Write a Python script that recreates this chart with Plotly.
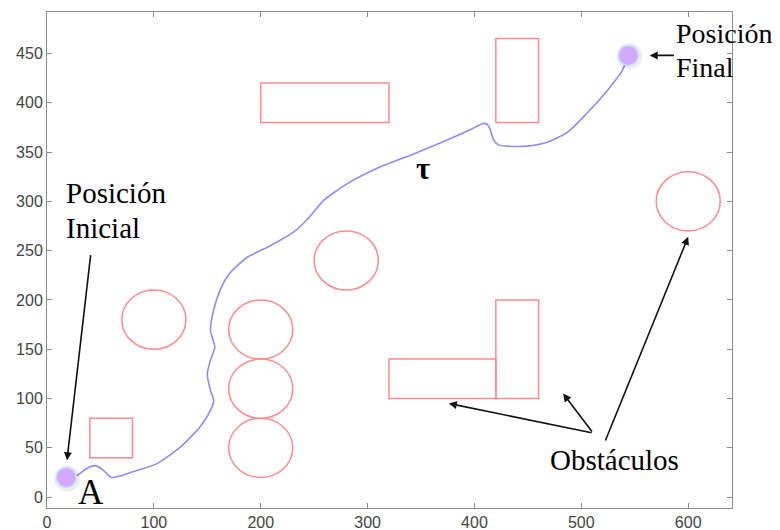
import plotly.graph_objects as go

# Obstacles
rect_x0 = [40, 200, 420, 320, 420]
rect_x1 = [80, 320, 460, 420, 460]
rect_y0 = [40, 380, 380, 100, 100]
rect_y1 = [80, 420, 465, 140, 200]

circ_cx = [100, 200, 200, 200, 280, 600]
circ_cy = [180, 170, 110, 50, 240, 300]
circ_r = [30, 30, 30, 30, 30, 30]

# Path tau
path_x = [18, 28, 37, 45, 52, 60, 70, 81, 103, 125, 143, 153, 156, 153, 150, 153, 157, 153,
          156, 162, 171, 187, 209, 231, 243, 259, 281, 312, 343, 374, 395, 408, 412, 415,
          418, 423, 430, 449, 468, 487, 505, 524, 538, 544]
path_y = [20, 22, 29, 32, 28, 20, 22, 26, 34, 51, 71, 88, 98, 108, 125, 139, 152, 169,
          190, 210, 227, 243, 255, 269, 281, 301, 318, 335, 348, 362, 372, 379, 378, 372,
          362, 357, 356, 356, 360, 370, 389, 412, 432, 448]

start_pt = (18, 20)
end_pt = (544, 448)

x_ticks = [0, 100, 200, 300, 400, 500, 600]
y_ticks = [0, 50, 100, 150, 200, 250, 300, 350, 400, 450]

fig = go.Figure()

fig.add_trace(go.Scatter(x=path_x, y=path_y, mode="lines",
                         line=dict(color="rgb(140,140,245)", width=1.6, shape="spline", smoothing=0.6),
                         hoverinfo="skip", showlegend=False))

for pt in (start_pt, end_pt):
    fig.add_trace(go.Scatter(x=[pt[0] + 1], y=[pt[1] - 1], mode="markers",
                             marker=dict(size=26, color="rgba(0,0,0,0.07)"),
                             hoverinfo="skip", showlegend=False))
    fig.add_trace(go.Scatter(x=[pt[0]], y=[pt[1]], mode="markers",
                             marker=dict(size=20, color="#d4a8fa",
                                         line=dict(color="#c4e2f6", width=1.5)),
                             hoverinfo="skip", showlegend=False))

shapes = []
for x0, x1, y0, y1 in zip(rect_x0, rect_x1, rect_y0, rect_y1):
    shapes.append(dict(type="rect", xref="x", yref="y", x0=x0, x1=x1, y0=y0, y1=y1,
                       line=dict(color="rgb(255,140,140)", width=1.5)))
for cx, cy, r in zip(circ_cx, circ_cy, circ_r):
    shapes.append(dict(type="circle", xref="x", yref="y", x0=cx - r, x1=cx + r,
                       y0=cy - r, y1=cy + r, line=dict(color="rgb(255,140,140)", width=1.5)))

serif = "Liberation Serif"
tfont = dict(family=serif, size=29, color="black")
tfont_r = dict(family=serif, size=28, color="black")
labels = [("Posición", 16, 308, tfont), ("Inicial", 16, 272.5, tfont),
          ("Posición", 587, 470, tfont_r), ("Final", 587, 435.5, tfont_r)]
anns = []
for txt, lx, ly, fnt in labels:
    anns.append(dict(x=lx, y=ly, xref="x", yref="y", text=txt, showarrow=False,
                     xanchor="left", yanchor="middle", font=fnt))
anns += [
    dict(x=469, y=38, xref="x", yref="y", text="Obstáculos", showarrow=False,
         xanchor="left", yanchor="middle", font=tfont),
    dict(x=41, y=5, xref="x", yref="y", text="A", showarrow=False,
         xanchor="center", yanchor="middle", font=dict(family=serif, size=35, color="black")),
    dict(x=352, y=333, xref="x", yref="y", text="<b>τ</b>", showarrow=False,
         xanchor="center", yanchor="middle", font=dict(family=serif, size=31, color="black")),
]
arrows = [
    ((41, 247), (18.7, 37.5)),
    ((588, 448), (564, 448)),
    ((511, 65), (376, 95)),
    ((511, 65), (483, 105)),
    ((522, 56), (600, 264)),
]
for (tx, ty), (hx, hy) in arrows:
    anns.append(dict(x=hx, y=hy, ax=tx, ay=ty, xref="x", yref="y", axref="x", ayref="y",
                     text="", showarrow=True, arrowhead=2, arrowsize=1, arrowwidth=1.6,
                     arrowcolor="#111"))

axis_common = dict(showline=True, linecolor="#8c8c8c", linewidth=1, mirror="ticks",
                   ticks="inside", ticklen=5, tickcolor="#8c8c8c", showgrid=False, zeroline=False,
                   automargin=False,
                   tickfont=dict(family="Liberation Sans", size=16, color="#444"))

fig.update_layout(
    width=772, height=522,
    margin=dict(l=39, r=48, t=4, b=22),
    paper_bgcolor="white", plot_bgcolor="white",
    shapes=shapes, annotations=anns,
    xaxis=dict(range=[0, 641], tickvals=x_ticks, **axis_common),
    yaxis=dict(range=[-11, 492], tickvals=y_ticks, **axis_common),
)

fig.write_html("out.html")
